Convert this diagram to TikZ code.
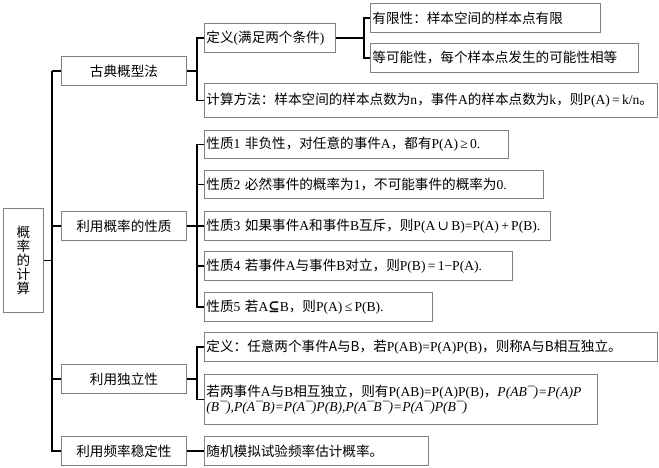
\documentclass[tikz,border=0pt]{standalone}
\usepackage{fontspec}
\setmainfont{Noto Sans CJK SC}
\newfontfamily\latf{Liberation Serif}
\newfontfamily\symf{DejaVu Serif}
\newcommand\lt[1]{{\latf #1}}
\newcommand\sy[1]{{\symf #1}}
\newcommand\fs{\fontsize{13.6}{16}\selectfont}
\definecolor{boxgray}{RGB}{128,128,128}
\tikzset{
  box/.style={draw=boxgray, line width=0.9pt, anchor=north west, inner xsep=2pt, inner ysep=0pt, align=left, font=\fs},
  cbox/.style={draw=boxgray, line width=0.9pt, anchor=north west, inner sep=0pt, align=center, font=\fs},
  conn/.style={line width=1.6pt, black}
}
\begin{document}
\begin{tikzpicture}[x=1pt,y=-1pt]
\useasboundingbox (0,0) rectangle (659,468);
% root
\node[cbox, minimum width=40pt, minimum height=104pt, font=\fontsize{13.6}{14}\selectfont] (root) at (3,208) {概\\率\\的\\计\\算};
% level 1
\node[cbox, minimum width=125pt, minimum height=29pt] (gd) at (61,56) {古典概型法};
\node[cbox, minimum width=125pt, minimum height=29pt] (xz) at (61,211) {利用概率的性质};
\node[cbox, minimum width=125pt, minimum height=29pt] (dl) at (61,364) {利用独立性};
\node[cbox, minimum width=125pt, minimum height=29pt] (pl) at (61,436) {利用频率稳定性};
% level 2
\node[box, text width=127pt, minimum height=29pt] (def1) at (204,23) {\mbox{定义\lt{(}满足两个条件\lt{)}}};
\node[box, text width=449pt, minimum height=34pt] (calc) at (204,83) {\mbox{计算方法：样本空间的样本点数为\lt{n}，事件\lt{A}的样本点数为\lt{k}，则\lt{P(A)\,=\,k/n}。}};
\node[box, text width=300pt, minimum height=28pt] (p1) at (204,130) {\mbox{性质\lt{1} 非负性，对任意的事件\lt{A}，都有\lt{P(A)\,≥\,0.}}};
\node[box, text width=335pt, minimum height=28pt] (p2) at (204,170) {\mbox{性质\lt{2} 必然事件的概率为\lt{1}，不可能事件的概率为\lt{0.}}};
\node[box, text width=342pt, minimum height=29pt] (p3) at (204,211) {\mbox{性质\lt{3} 如果事件\lt{A}和事件\lt{B}互斥，则\lt{P(A\,}\sy{∪}\lt{\,B)=P(A)\,+\,P(B).}}};
\node[box, text width=304pt, minimum height=29pt] (p4) at (204,251) {\mbox{性质\lt{4} 若事件\lt{A}与事件\lt{B}对立，则\lt{P(B)\,=\,1−P(A).}}};
\node[box, text width=224pt, minimum height=29pt] (p5) at (204,292) {\mbox{性质\lt{5} 若\lt{A}\sy{\bfseries ⊆}\lt{B}，则\lt{P(A)\,≤\,P(B).}}};
\node[box, text width=449pt, minimum height=29pt] (d2) at (204,332) {\mbox{定义：任意两个事件A与B，若\lt{P(AB)=P(A)P(B)}，则称A与B相互独立。}};
\node[box, text width=389pt, minimum height=50pt, font=\fontsize{13.6}{15}\selectfont] (ind) at (204,374) {\mbox{若两事件\lt{A}与\lt{B}相互独立，则有\lt{P(AB)=P(A)P(B)}，\lt{\itshape P(AB¯)=P(A)P}}\\\mbox{\lt{\itshape (B¯),P(A¯B)=P(A¯)P(B),P(A¯B¯)=P(A¯)P(B¯)}}};
\node[box, text width=220pt, minimum height=29pt] (sim) at (204,436) {\mbox{随机模拟试验频率估计概率。}};
% level 3
\node[box, text width=226pt, minimum height=29pt] (fin) at (370,3) {\mbox{有限性：样本空间的样本点有限}};
\node[box, text width=264pt, minimum height=29pt] (eq) at (370,43) {\mbox{等可能性，每个样本点发生的可能性相等}};
% trunk
\draw[conn] (gd.west) -- ++(-9,0) coordinate (tA);
\draw[conn] (tA) |- (xz.west);
\draw[conn] (tA) |- (dl.west);
\draw[conn] (tA) |- (pl.west);
\draw[conn] (root.east) -- (root.east -| tA);
% classical
\draw[conn] (gd.east) -- ++(10,0) coordinate (bA);
\draw[conn] (bA) |- (def1.west);
\draw[conn] (bA) |- (calc.west);
\draw[conn] (def1.east) -- ++(28,0) coordinate (bB);
\draw[conn] (bB) |- (fin.west);
\draw[conn] (bB) |- (eq.west);
% properties
\draw[conn] (xz.east) -- ++(10,0) coordinate (bC);
\draw[conn] (bC) |- (p1.west);
\draw[conn] (bC) |- (p2.west);
\draw[conn] (bC) |- (p3.west);
\draw[conn] (bC) |- (p4.west);
\draw[conn] (bC) |- (p5.west);
% independence
\draw[conn] (dl.east) -- ++(10,0) coordinate (bD);
\draw[conn] (bD) |- (d2.west);
\draw[conn] (bD) |- (ind.west);
% frequency
\draw[conn] (pl.east) -- (sim.west);
\end{tikzpicture}
\end{document}
